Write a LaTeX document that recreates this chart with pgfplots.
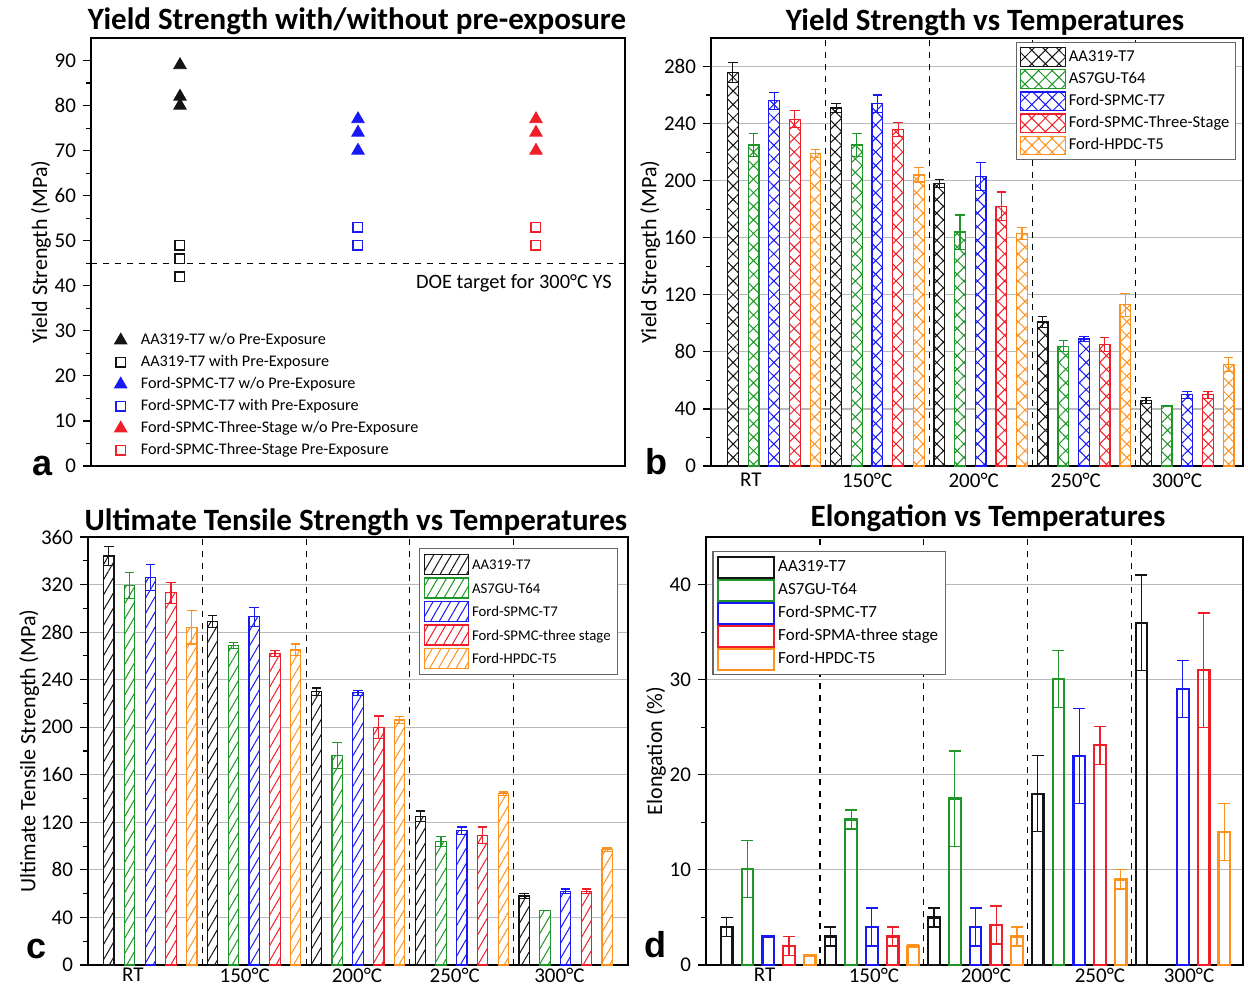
\documentclass[border=0pt]{standalone}
\usepackage{pgfplots}
\pgfplotsset{compat=1.18}
\usepackage{pgfplotstable}
\usetikzlibrary{patterns.meta}
\usepackage{fontspec}
\setmainfont{Carlito}
\newfontfamily\arialb{Liberation Sans}

\definecolor{cblack}{RGB}{20,20,20}
\definecolor{cgreen}{RGB}{30,150,40}
\definecolor{cblue}{RGB}{25,25,245}
\definecolor{cred}{RGB}{240,30,40}
\definecolor{corange}{RGB}{255,145,30}
\definecolor{gridgray}{RGB}{185,185,185}

% YS vs temperature
\pgfplotstableread{
grp k ke g ge b be r re o oe
0 276 7 225 8 256 6 243 6 219 3
1 251 3 225 8 254 6 236 5 204 5
2 198 3 164 12 203 10 182 10 163 4
3 101 4 84 4 89 1.5 85 5 113 8
4 46 2 42 0 50 2.5 50 2.5 71 5
}\ysdata
% UTS vs temperature
\pgfplotstableread{
grp k ke g ge b be r re o oe
0 344 8 319 11 326 11 313 9 284 14
1 289 5 269 2.5 293 8 262 2.5 265 5
2 230 3 176 11 229 2 200 9.5 206 3
3 125 4.5 104 4 113 3 109 7 144 1.5
4 58 2 46 0 62 2 62 2 97 1.5
}\utsdata
% elongation vs temperature
\pgfplotstableread{
grp k ke g ge b be r re o oe
0 4 1 10.1 3 3 0.1 2 1 1 0.1
1 3 1 15.3 1 4 2 3 1 2 0.1
2 5 1 17.5 5 4 2 4.2 2 3 1
3 18 4 30.1 3 22 5 23.1 2 9 1
4 36 5 nan 0 29 3 31 6 14 3
}\eldata

\pgfplotsset{
  panel/.style={scale only axis, anchor=south west,
    axis line style={line width=0.7pt},
    tick align=outside, ytick pos=left, xtick pos=bottom,
    tick style={black, line width=0.6pt},
    major tick length=4pt, minor tick length=2.5pt,
    minor y tick num=1,
    /pgf/number format/assume math mode=true,
    ticklabel style={font=\fontsize{10.5}{12}\selectfont},
    ylabel style={font=\fontsize{11}{13}\selectfont},
  },
  barpanel/.style={panel, ybar, bar shift=0pt, ymin=0,
    ymajorgrids, grid style={gridgray, line width=0.6pt},
    xtick style={draw=none},
    xticklabel style={inner ysep=1pt, yshift=1.5pt},
    extra x ticks={4.5,9.5,14.5,19.5}, extra x tick labels={},
    extra x tick style={grid=major, grid style={black, dashed, line width=0.55pt}},
    legend cell align=left,
  },
  hb/.style={draw=#1, line width=0.6pt, preaction={fill=white},
    pattern={Hatch[angle=45,distance=4.8pt,line width=0.5pt]}, pattern color=#1,
    error bars/.cd, y dir=both, y explicit,
    error bar style={#1, line width=0.6pt},
    error mark options={rotate=90, #1, mark size=2.4pt, line width=0.6pt},
  },
  hc/.style={draw=#1, line width=0.6pt, preaction={fill=white},
    pattern={Lines[angle=60,distance=3.8pt,line width=0.5pt]}, pattern color=#1,
    error bars/.cd, y dir=both, y explicit,
    error bar style={#1, line width=0.6pt},
    error mark options={rotate=90, #1, mark size=2.4pt, line width=0.6pt},
  },
  hd/.style={draw=#1, line width=1.1pt, fill=none,
    error bars/.cd, y dir=both, y explicit,
    error bar style={#1, line width=0.6pt},
    error mark options={rotate=90, #1, mark size=3pt, line width=0.6pt},
  },
}

\begin{document}
\begin{tikzpicture}
\useasboundingbox (0,0) rectangle (624pt,493.5pt);

% ---------- a ----------
\begin{axis}[panel, at={(45.5pt,260.5pt)}, width=267pt, height=214pt,
  xmin=0, xmax=6, ymin=0, ymax=95, ytick={0,10,...,90}, xtick=\empty,
  extra y ticks={45}, extra y tick labels={},
  extra y tick style={grid=major, grid style={black, dashed, line width=0.6pt}, major tick length=0pt},
  ylabel={Yield Strength (MPa)}, ylabel style={xshift=0pt, yshift=-9pt},
  legend style={at={(0.032,0.004)}, anchor=south west, draw=none, fill=none,
    font=\fontsize{8.1}{9.5}\selectfont, row sep=1.5pt,
    nodes={inner xsep=7pt, inner ysep=1pt, text height=6pt, text depth=1.5pt}},
  legend cell align=left]
\addplot[only marks, mark=triangle*, mark size=3.6pt, cblack] coordinates {(1,89) (1,82) (1,80)};
\addlegendentry{AA319-T7 w/o Pre-Exposure}
\addplot[only marks, mark=square, mark size=2.4pt, cblack, line width=0.7pt] coordinates {(1,49) (1,46) (1,42)};
\addlegendentry{AA319-T7 with Pre-Exposure}
\addplot[only marks, mark=triangle*, mark size=3.6pt, cblue] coordinates {(3,77) (3,74) (3,70)};
\addlegendentry{Ford-SPMC-T7 w/o Pre-Exposure}
\addplot[only marks, mark=square, mark size=2.4pt, cblue, line width=0.7pt] coordinates {(3,53) (3,49)};
\addlegendentry{Ford-SPMC-T7 with Pre-Exposure}
\addplot[only marks, mark=triangle*, mark size=3.6pt, cred] coordinates {(5,77) (5,74) (5,70)};
\addlegendentry{Ford-SPMC-Three-Stage w/o Pre-Exposure}
\addplot[only marks, mark=square, mark size=2.4pt, cred, line width=0.7pt] coordinates {(5,53) (5,49)};
\addlegendentry{Ford-SPMC-Three-Stage Pre-Exposure}
\node[anchor=east, font=\fontsize{10.2}{12}\selectfont] at (axis cs:5.93,40.6) {DOE target for 300°C YS};
\end{axis}

% ---------- b ----------
\begin{axis}[barpanel, at={(355.5pt,260.5pt)}, width=266pt, height=214pt,
  bar width=0.52, xmin=-1.06, xmax=24.7, ymax=300, ytick={0,40,...,280},
  xtick={0.87,6.5,11.66,16.6,21.5},
  xticklabels={RT,\raisebox{-1.5pt}{150°C},200°C,250°C,300°C},
  ylabel={Yield Strength (MPa)}, ylabel style={yshift=-5pt},
  legend style={at={(0.987,0.99)}, anchor=north east, draw=gray!80!black, line width=0.6pt,
    font=\fontsize{8.3}{10}\selectfont, row sep=0pt, inner sep=1.5pt,
    nodes={inner xsep=1.5pt, inner ysep=1.2pt, text height=6.6pt, text depth=2.05pt}},
  legend image code/.code={\draw[#1] (0pt,-4.6pt) rectangle (22.5pt,4.6pt);}]
\addplot[hb=cblack]  table[x expr=5*\thisrow{grp}+0, y=k, y error=ke]{\ysdata};
\addlegendentry{AA319-T7}
\addplot[hb=cgreen]  table[x expr=5*\thisrow{grp}+1, y=g, y error=ge]{\ysdata};
\addlegendentry{AS7GU-T64}
\addplot[hb=cblue]   table[x expr=5*\thisrow{grp}+2, y=b, y error=be]{\ysdata};
\addlegendentry{Ford-SPMC-T7}
\addplot[hb=cred]    table[x expr=5*\thisrow{grp}+3, y=r, y error=re]{\ysdata};
\addlegendentry{Ford-SPMC-Three-Stage}
\addplot[hb=corange] table[x expr=5*\thisrow{grp}+4, y=o, y error=oe]{\ysdata};
\addlegendentry{Ford-HPDC-T5}
\end{axis}

% ---------- c ----------
\begin{axis}[barpanel, at={(44pt,11pt)}, width=270pt, height=214pt,
  bar width=0.5, xmin=-1, xmax=25, ymax=360, ytick={0,40,...,360},
  xtick={1.16,6.55,11.95,16.66,21.7},
  xticklabels={RT,\raisebox{-1pt}{150°C},200°C,250°C,300°C},
  xticklabel style={yshift=2pt},
  ylabel={Ultimate Tensile Strength (MPa)}, ylabel style={yshift=-6pt},
  legend style={at={(0.982,0.974)}, anchor=north east, draw=gray!80!black, line width=0.6pt,
    font=\fontsize{7.4}{9}\selectfont, row sep=0pt, inner sep=2pt,
    nodes={inner xsep=1.5pt, inner ysep=1.5pt, text height=7pt, text depth=1.75pt}},
  legend image code/.code={\draw[#1] (0pt,-5pt) rectangle (22pt,5pt);}]
\addplot[hc=cblack]  table[x expr=5*\thisrow{grp}+0, y=k, y error=ke]{\utsdata};
\addlegendentry{AA319-T7}
\addplot[hc=cgreen]  table[x expr=5*\thisrow{grp}+1, y=g, y error=ge]{\utsdata};
\addlegendentry{AS7GU-T64}
\addplot[hc=cblue]   table[x expr=5*\thisrow{grp}+2, y=b, y error=be]{\utsdata};
\addlegendentry{Ford-SPMC-T7}
\addplot[hc=cred]    table[x expr=5*\thisrow{grp}+3, y=r, y error=re]{\utsdata};
\addlegendentry{Ford-SPMC-three stage}
\addplot[hc=corange] table[x expr=5*\thisrow{grp}+4, y=o, y error=oe]{\utsdata};
\addlegendentry{Ford-HPDC-T5}
\end{axis}

% ---------- d ----------
\begin{axis}[barpanel, at={(353pt,11pt)}, width=268.5pt, height=214pt,
  bar width=0.56, xmin=-1, xmax=24.9, ymax=45, ytick={0,10,...,40},
  xtick={1.83,7.1,12.5,18,22.3},
  xticklabels={RT,150°C,200°C,\raisebox{-1.5pt}{250°C},300°C},
  xticklabel style={yshift=2pt},
  ylabel={Elongation (\%)}, ylabel style={yshift=-5pt},
  legend style={at={(0.012,0.967)}, anchor=north west, draw=gray!80!black, line width=0.6pt,
    font=\fontsize{8.5}{10}\selectfont, row sep=0pt, inner sep=2pt,
    nodes={inner xsep=1.5pt, inner ysep=1.2pt, text height=6.6pt, text depth=1.9pt}},
  legend image code/.code={\draw[#1] (0pt,-5.2pt) rectangle (28pt,5.2pt);}]
\addplot[hd=cblack]  table[x expr=5*\thisrow{grp}+0, y=k, y error=ke]{\eldata};
\addlegendentry{AA319-T7}
\addplot[hd=cgreen]  table[x expr=5*\thisrow{grp}+1, y=g, y error=ge]{\eldata};
\addlegendentry{AS7GU-T64}
\addplot[hd=cblue]   table[x expr=5*\thisrow{grp}+2, y=b, y error=be]{\eldata};
\addlegendentry{Ford-SPMC-T7}
\addplot[hd=cred]    table[x expr=5*\thisrow{grp}+3, y=r, y error=re]{\eldata};
\addlegendentry{Ford-SPMA-three stage}
\addplot[hd=corange] table[x expr=5*\thisrow{grp}+4, y=o, y error=oe]{\eldata};
\addlegendentry{Ford-HPDC-T5}
\end{axis}

% titles and panel letters
\begin{scope}[every node/.style={font=\fontsize{15.5}{18}\selectfont\bfseries, anchor=base}]
\node at (178.5pt,478.5pt) {Yield Strength with/without pre-exposure};
\node at (492.5pt,478pt) {Yield Strength vs Temperatures};
\node at (178pt,228.5pt) {Ultimate Tensile Strength vs Temperatures};
\node at (494pt,230.5pt) {Elongation vs Temperatures};
\end{scope}
\begin{scope}[every node/.style={font=\arialb\fontsize{18}{20}\selectfont\bfseries, anchor=base}]
\node at (21.5pt,255.5pt) {a};
\node at (328pt,256pt) {b};
\node at (18.5pt,14.5pt) {c};
\node at (327.5pt,15pt) {d};
\end{scope}
\end{tikzpicture}
\end{document}
